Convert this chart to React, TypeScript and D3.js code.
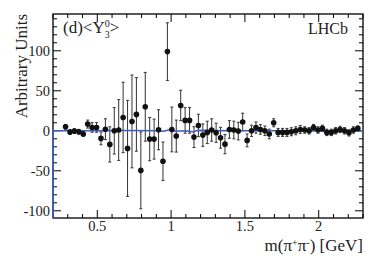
import React from 'react';
import * as d3 from 'd3';

// bin centres of m(pi+ pi-) in GeV
const massBins = [
  0.285, 0.315, 0.345, 0.375, 0.405, 0.435, 0.465, 0.495, 0.525, 0.555,
  0.585, 0.615, 0.645, 0.675, 0.705, 0.735, 0.765, 0.795, 0.825, 0.855,
  0.885, 0.915, 0.945, 0.975, 1.005, 1.035, 1.065, 1.095, 1.125, 1.155,
  1.185, 1.215, 1.245, 1.275, 1.305, 1.335, 1.365, 1.395, 1.425, 1.455,
  1.485, 1.515, 1.545, 1.575, 1.605, 1.635, 1.665, 1.695, 1.725, 1.755,
  1.785, 1.815, 1.845, 1.875, 1.905, 1.935, 1.965, 1.995, 2.025, 2.055,
  2.085, 2.115, 2.145, 2.175, 2.205, 2.235, 2.265,
];
const momentValues = [
  5, -1.6, -0.4, -1.2, -4, 8.4, 4.2, 4.2, -9.5, 2,
  -17, 0, 1, 16.7, -22, 11.7, 20.5, -49.5, 30, -10.4,
  -10.4, 1.3, -38, 99, 1.7, -6.6, 31.7, 13, 13, -7.9,
  6.7, -5.4, -2, 1, -2.5, -8.7, -16.7, 1.7, 1, -0.4,
  11, -12, 0, 4, 1.7, 0, -4, 10, -2, -2,
  -2, -1.2, 0, 1.7, 1, 0, 4, 1, 3, -2,
  -2, 0, 1.7, 0, -2.5, 1, 3,
];
const momentErrors = [
  3, 3, 3, 3, 3, 5, 6, 6, 8, 13,
  22, 29, 38, 44, 60, 58, 46, 48, 43, 27,
  25, 25, 24, 36, 28, 20, 19, 16, 16, 13,
  14, 14, 14, 14, 12, 13, 12, 11, 11, 11,
  11, 8, 7, 7, 6, 6, 6, 5, 5, 5,
  5, 5, 5, 5, 4, 4, 4, 4, 4, 4,
  4, 4, 4, 4, 4, 4, 3,
];

// fit model curve
const fitMass = [0.2, 0.2, 0.3, 0.5, 0.7, 0.9, 0.95, 0.98, 1.0, 1.03, 1.1, 1.15, 1.17, 1.2, 1.4, 1.6, 1.8, 2.0, 2.3];
const fitValues = [-115, 0, 0, 0, 0.3, 0, -0.5, 1, 1.2, -0.5, 0, -1.5, 0, 0.5, 0, 0, 0, 0, 0];

const xTicks = [0.5, 1, 1.5, 2];
const yTicks = [-100, -50, 0, 50, 100];

const W = 384, H = 260;
const left = 53, right = 363, top = 14, bottom = 218;
const FONT = 'Liberation Serif';
const BLUE = '#3b5fc4';

export default function App() {
  const x = d3.scaleLinear().domain([0.2, 2.3]).range([left, right]);
  const y = d3.scaleLinear().domain([-109, 146]).range([bottom, top]);

  const xMinor = d3.range(0.2, 2.31, 0.1).map(v => +v.toFixed(2));
  const yMinor = d3.range(-100, 141, 10);

  const fitLine = d3.line<number>()
    .x((_, i) => x(fitMass[i]))
    .y(d => y(Math.max(d, -109)));

  const pts = massBins.map((m, i) => ({ m, v: momentValues[i], e: momentErrors[i] }));
  const txt = { fontFamily: FONT, fill: '#222' };

  return (
    <svg width={W} height={H} style={{ display: 'block', position: 'absolute', left: 0, top: 0 }}>
      <rect x={0} y={0} width={W} height={H} fill="#fff" />

      {/* ticks, all four sides, pointing in */}
      <g stroke="#000" strokeWidth={1}>
        {xMinor.map(v => {
          const major = xTicks.some(t => Math.abs(t - v) < 1e-6);
          const len = major ? 8 : 4;
          return (
            <g key={'xm' + v}>
              <line x1={x(v)} x2={x(v)} y1={bottom} y2={bottom - len} />
              <line x1={x(v)} x2={x(v)} y1={top} y2={top + len} />
            </g>
          );
        })}
        {yMinor.map(v => {
          const len = v % 50 === 0 ? 8 : 4;
          return (
            <g key={'ym' + v}>
              <line x1={left} x2={left + len} y1={y(v)} y2={y(v)} />
              <line x1={right} x2={right - len} y1={y(v)} y2={y(v)} />
            </g>
          );
        })}
      </g>

      {/* error bars and points */}
      <g stroke="#333" strokeWidth={1}>
        {pts.map(p => (
          <g key={'e' + p.m}>
            <line x1={x(p.m)} x2={x(p.m)} y1={y(Math.max(p.v - p.e, -109))} y2={y(Math.min(p.v + p.e, 146))} />
            <line x1={x(p.m) - 1.5} x2={x(p.m) + 1.5} y1={y(p.v - p.e)} y2={y(p.v - p.e)} />
            <line x1={x(p.m) - 1.5} x2={x(p.m) + 1.5} y1={y(p.v + p.e)} y2={y(p.v + p.e)} />
          </g>
        ))}
      </g>

      <rect x={left} y={top} width={right - left} height={bottom - top} fill="none" stroke="#000" strokeWidth={1.3} />

      <path d={fitLine(fitValues) || ''} fill="none" stroke={BLUE} strokeWidth={1.6} />

      <g fill="#111">
        {pts.map(p => (
          <circle key={'p' + p.m} cx={x(p.m)} cy={y(p.v)} r={2.8} />
        ))}
      </g>

      {/* tick labels */}
      <g style={{ ...txt, fontSize: 14.5 }}>
        {xTicks.map(t => (
          <text key={'xl' + t} x={x(t)} y={bottom + 13} textAnchor="middle">{String(t)}</text>
        ))}
        {yTicks.map(t => (
          <text key={'yl' + t} x={left - 3} y={y(t) + 5} textAnchor="end">{String(t)}</text>
        ))}
      </g>

      <text style={{ ...txt, fontSize: 17 }} textAnchor="end"
        transform={`translate(27,${top}) rotate(-90)`}>Arbitrary Units</text>

      <text style={{ ...txt, fontSize: 17 }} x={right} y={251} textAnchor="end">
        m(π<tspan dy={-5} fontSize={10}>+</tspan><tspan dy={5}>π</tspan><tspan dy={-5} fontSize={10}>-</tspan><tspan dy={5}>) [GeV]</tspan>
      </text>

      <text style={{ ...txt, fontSize: 17 }} x={63} y={33}>
        (d)&lt;Y<tspan dy={-6} fontSize={10}>0</tspan><tspan dx={-5} dy={11} fontSize={10}>3</tspan><tspan dy={-5}>&gt;</tspan>
      </text>

      <text style={{ ...txt, fontSize: 16 }} x={348} y={34} textAnchor="end">LHCb</text>
    </svg>
  );
}
